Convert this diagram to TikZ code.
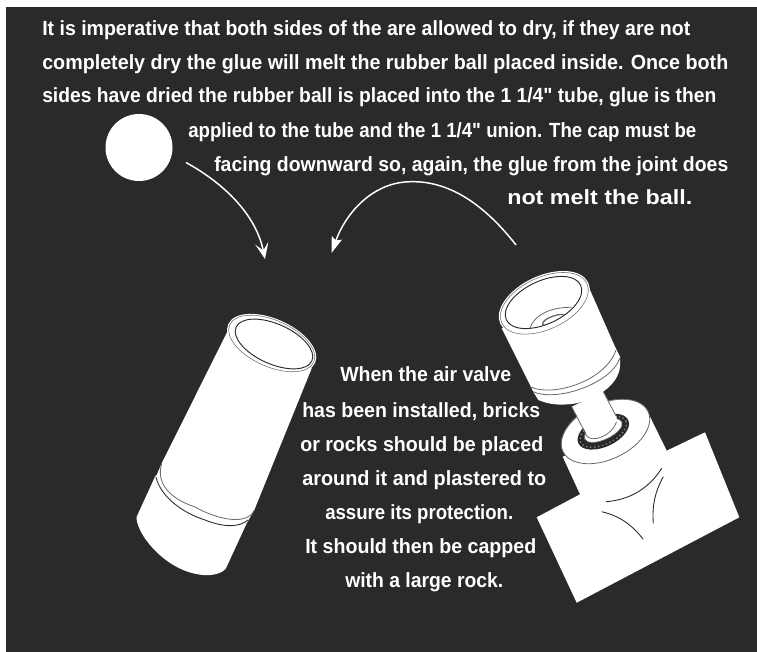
\documentclass[tikz,border=0pt]{standalone}
\usepackage{fontspec}
\usepackage{graphicx}
\usetikzlibrary{arrows.meta}
\newfontfamily\lblfont{Liberation Sans Bold}
\definecolor{panel}{HTML}{2A2A2A}
\definecolor{edgegray}{HTML}{6A6A6A}
\tikzset{
  txt/.style={text=white,inner sep=0pt,anchor=base west,font=\lblfont\fontsize{14}{16}\selectfont},
  solidpart/.style={fill=white,draw=none},
  thinline/.style={draw=panel,line width=0.65pt},
  softline/.style={draw=edgegray,line width=0.6pt},
  flowcurve/.style={draw=white,line width=1.1pt}
}
\newcommand\tline[5]{\node[txt] (#1) at (#2,#3) {\resizebox{0.75\dimexpr#4pt\relax}{1.1\height}{#5}};}
\begin{document}
\begin{tikzpicture}[x=0.75pt,y=-0.75pt]
\useasboundingbox (0,0) rectangle (757,652);
\fill[white] (0,0) rectangle (757,652);
\fill[panel] (6,7) rectangle (760,656);
% text
\tline{t1}{42}{36}{648}{It is imperative that both sides of the are allowed to dry, if they are not}
\tline{t2}{42}{69.5}{686}{completely dry the glue will melt the rubber ball placed inside. Once both}
\tline{t3}{42}{103}{674}{sides have dried the rubber ball is placed into the 1 1/4" tube, glue is then}
\tline{t4}{188}{138}{508}{applied to the tube and the 1 1/4" union. The cap must be}
\tline{t5}{214}{172}{514}{facing downward so, again, the glue from the joint does}
\tline{t6}{507}{205}{185}{not melt the ball.}
\tline{b1}{340}{382}{171}{When the air valve}
\tline{b2}{302}{417}{238}{has been installed, bricks}
\tline{b3}{300}{451}{243}{or rocks should be placed}
\tline{b4}{302}{485}{244}{around it and plastered to}
\tline{b5}{325}{519}{188}{assure its protection.}
\tline{b6}{305}{553}{231}{It should then be capped}
\tline{b7}{345}{587}{158}{with a large rock.}
% ball
\node[circle,fill=white,minimum size=50.25pt,inner sep=0pt] (ball) at (139,147.5) {};
% arrows
\coordinate (a1s) at (186,162.5);
\coordinate (a1e) at (265,259);
\coordinate (a2s) at (516,245);
\coordinate (a2e) at (331.5,253);
\draw[flowcurve,-{Stealth[length=12pt,width=10pt,inset=5.5pt]}] (a1s) .. controls (225,184) and (256,215) .. (a1e);
\draw[flowcurve,-{Stealth[length=12pt,width=8pt,inset=2pt]}] (a2s) .. controls (470,186) and (430,180) .. (405,182) .. controls (370,185) and (345,215) .. (a2e);
% left tube
\path[solidpart] (227.3,331.7) -- (161.7,463.3) -- (156.7,475) -- (155,476.7) -- (136.7,516.7)
  .. controls (135,532) and (165,572) .. (203.3,575)
  .. controls (215,576) and (225,572) .. (226.7,566.7)
  -- (246.7,523.3) -- (254.3,510) -- (311.7,368.3) -- cycle;
\path[fill=white,draw=white,line width=0.8pt] (271.7,343.5) ellipse [x radius=47,y radius=24,rotate=-24];
\path[draw=edgegray,line width=0.4pt] (271.7,343.5) ellipse [x radius=46,y radius=23.2,rotate=-24];
\path[fill=white,draw=panel,line width=0.7pt] (274,344) ellipse [x radius=41.5,y radius=20,rotate=-24];
\draw[softline] (161.7,463.3) .. controls (156,482) and (168,498) .. (195,507) .. controls (220,521) and (248,525) .. (254.3,510);
\draw[thinline] (156,477) .. controls (160,495) and (180,512) .. (205,520) .. controls (225,528) and (240,527) .. (248,520);
% T fitting
\path[solidpart] (536.7,517.3) -- (580,494.3) -- (562.7,456.7) -- (650,416.7) -- (666.7,450.7) -- (705,432.3) -- (739.3,517.3) -- (576.7,602.7) -- cycle;
\path[fill=white,softline] (605.5,431.5) ellipse [x radius=47,y radius=28,rotate=25];
\fill[panel] (603.3,431.7) ellipse [x radius=27.5,y radius=15,rotate=25];
\draw[gray,line width=1pt,dotted] (603.3,431.7) ellipse [x radius=25,y radius=12.5,rotate=25];
\draw[edgegray,line width=0.5pt,fill=white] (603.3,430.5) ellipse [x radius=20.5,y radius=9,rotate=25];
\draw[thinline] (606,501.7) .. controls (628,500) and (648,490) .. (661.7,468.3);
\draw[thinline] (653.3,523.3) .. controls (652,505) and (655,492) .. (663.3,476.7);
\draw[thinline] (601.7,511.7) .. controls (620,516) and (632,525) .. (643.3,539.3);
% stem
\path[solidpart] (571.7,406.7) -- (603.3,391.7) -- (616.7,416.7) -- (616.5,428) .. controls (610,438) and (598,443) .. (590,440) -- cycle;
\draw[softline] (586.7,436) .. controls (592,443) and (612,436) .. (616.5,422);
\draw[softline] (603.3,391.7) -- (616,416);
\draw[softline] (571.7,406.7) -- (586.7,436);
% cap
\path[solidpart] (501.7,328.3) -- (530,385) -- (533.3,391.7) -- (538.3,400)
  .. controls (552,406) and (565,405) .. (576.7,403.3)
  .. controls (598,398) and (618,385) .. (620,366.7)
  -- (620,356.7) -- (615,346.7) -- (590,290) -- cycle;
\draw[softline] (533.3,391.7) .. controls (555,402) and (610,385) .. (620,358);
\draw[softline] (531,387) .. controls (552,397) and (605,382) .. (616,350);
\path[fill=white,draw=white,line width=0.8pt] (544.3,303.3) ellipse [x radius=48,y radius=27,rotate=25];
\path[draw=edgegray,line width=0.4pt] (544.3,303.3) ellipse [x radius=47,y radius=26,rotate=25];
\path[fill=white,draw=panel,line width=0.7pt] (543.5,302.5) ellipse [x radius=41,y radius=21.5,rotate=25];
\begin{scope}
\clip (543.5,302.5) ellipse [x radius=41,y radius=21.5,rotate=25];
\draw[softline] (530,328.3) .. controls (533,317) and (548,307) .. (571.7,307.3);
\draw[softline,line width=1pt] (554,320) ellipse [x radius=12,y radius=4,rotate=20];
\end{scope}
\end{tikzpicture}
\end{document}
